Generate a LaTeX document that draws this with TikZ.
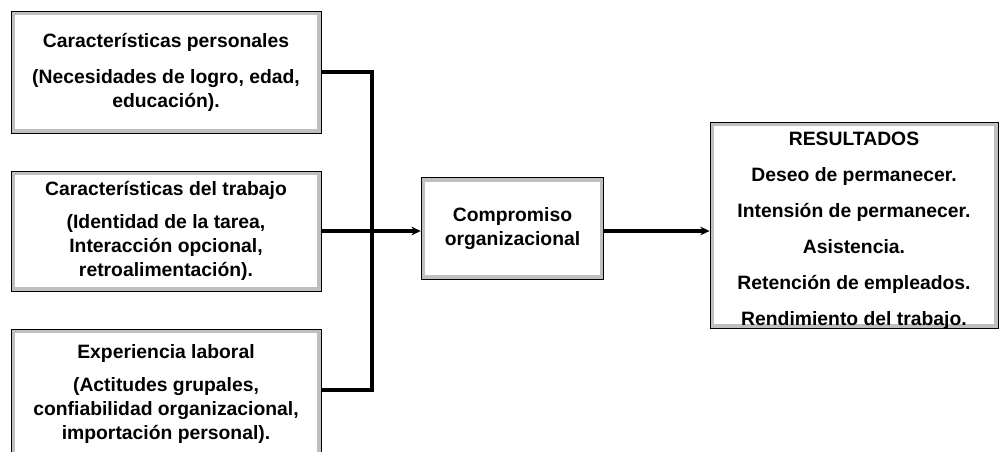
\documentclass[tikz,border=0pt]{standalone}
\usepackage{fontspec}
\setmainfont{Liberation Sans}
\usetikzlibrary{arrows.meta}
\usetikzlibrary{positioning}
\tikzstyle{caja}=[draw=black, line width=0.6pt, fill=gray!50, align=center, inner sep=0pt,
  font=\bfseries\fontsize{14.5}{18}\selectfont,
  path picture={\fill[white] ([shift={(3pt,3pt)}]path picture bounding box.south west)
    rectangle ([shift={(-3pt,-3pt)}]path picture bounding box.north east);}]
\tikzstyle{linea}=[line width=2.6pt]
\tikzstyle{flecha}=[line width=2.6pt, -{Stealth[length=7pt,width=6.5pt]}]

\begin{document}
\begin{tikzpicture}[x=0.75pt, y={(0pt,-0.75pt)}]
  \useasboundingbox (0,0) rectangle (999,451);
  \clip (0,0) rectangle (999,451);
  \node[caja, minimum width=232.5pt, minimum height=91.5pt] (personal) at (166,72)
    {Características personales\\[9pt]
     (Necesidades de logro, edad,\\educación).};
  \node[caja, minimum width=232.5pt, minimum height=90pt] (trabajo) at (166,231)
    {Características del trabajo\\[7pt]
     (Identidad de la tarea,\\Interacción opcional,\\retroalimentación).};
  \node[caja, minimum width=232.5pt, minimum height=97.5pt] (experiencia) at (166,394)
    {Experiencia laboral\\[7pt]
     (Actitudes grupales,\\confiabilidad organizacional,\\importación personal).};
  \node[caja, minimum width=137pt, minimum height=76pt] (compromiso) at (512.5,228.5)
    {Compromiso\\organizacional};
  \node[caja, minimum width=216pt, minimum height=154.5pt, text depth=0pt] (resultados) at (854,225)
    {\rule{0pt}{16pt}RESULTADOS\\[9pt]Deseo de permanecer.\\[9pt]Intensión de permanecer.\\[9pt]
     Asistencia.\\[9pt]Retención de empleados.\\[9pt]Rendimiento del trabajo.};
  \coordinate (union) at (372,231);
  \draw[linea] (personal.east) -| (union);
  \draw[linea] ([yshift=3pt]experiencia.east) -| (union);
  \draw[flecha] (trabajo.east) -- (trabajo.east -| compromiso.west);
  \draw[flecha] (trabajo.east -| compromiso.east) -- (trabajo.east -| resultados.west);
\end{tikzpicture}
\end{document}
